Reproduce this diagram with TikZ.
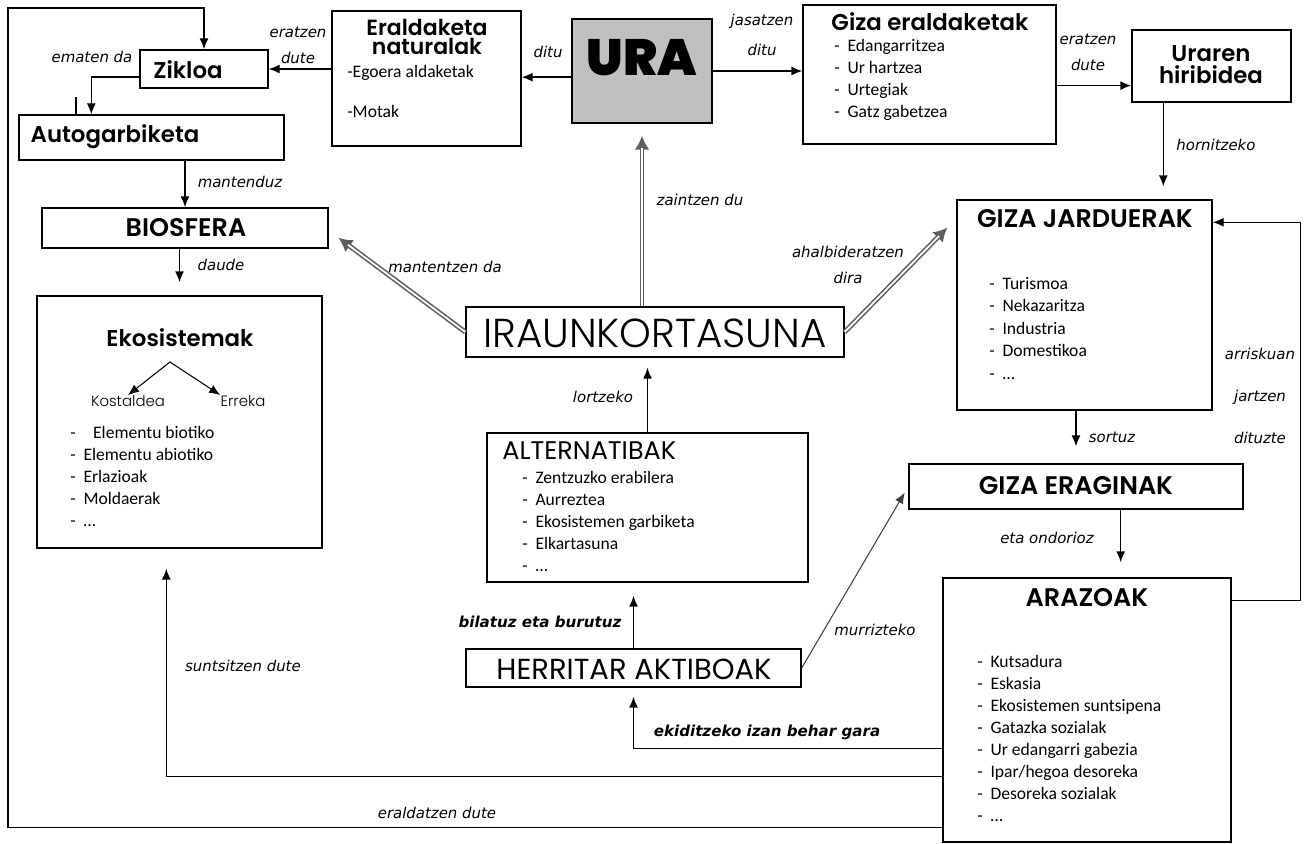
\documentclass[tikz,border=0pt]{standalone}
\usepackage{fontspec}
\usetikzlibrary{arrows.meta,fit,calc}

\newfontfamily\titlefont{Poppins SemiBold}
\newfontfamily\plainfont{Poppins}
\newfontfamily\thinfont{Poppins Light}
\newfontfamily\heavyfont{Poppins Black}
\newfontfamily\itemfont{Carlito}
\newfontfamily\labelfont{DejaVu Sans}
\definecolor{uragray}{RGB}{192,192,192}
\definecolor{dblgray}{RGB}{95,95,95}
\newcommand{\itemdash}{\makebox[7.5pt][l]{-}}

\tikzset{
  box/.style={draw, line width=0.8pt, inner sep=0pt},
  arr/.style={line width=0.8pt, -{Latex[length=2.2mm,width=1.8mm]}},
  dblout/.style={draw=dblgray, line width=2.8pt, -{Latex[length=2.8mm,width=3mm]}},
  dblin/.style={draw=white, line width=1pt},
  ttl/.style={inner sep=0pt, align=center, font=\titlefont\fontsize{13}{12.5}\selectfont},
  capttl/.style={inner sep=0pt, align=center, font=\titlefont\fontsize{14.5}{14}\selectfont},
  item/.style={anchor=west, inner sep=0pt, text height=7pt, text depth=2pt, font=\itemfont\fontsize{10}{12}\selectfont},
  lbl/.style={inner sep=0pt, align=center, font=\labelfont\itshape\fontsize{8.5}{14.8}\selectfont},
  blbl/.style={inner sep=0pt, font=\labelfont\bfseries\itshape\fontsize{8.6}{10}\selectfont}
}

\begin{document}
\begin{tikzpicture}[x=0.02cm, y=-0.02cm]
	\useasboundingbox (0,0) rectangle (1309,844);

	% top row
	\node[box, fit={(140,50) (268,88)}] (zikloa) {};
	\node[ttl] (zikloa-t) at (188,70) {Zikloa};
	\node[box, fit={(19,115) (284,160)}] (autog) {};
	\node[ttl] (autog-t) at (115,137) {Autogarbiketa};
	\node[box, fit={(332,11) (521,146)}] (eraldnat) {};
	\node[ttl, font=\titlefont\fontsize{12.5}{11.2}\selectfont] (eraldnat-t) at (427,37) {Eraldaketa\\naturalak};
	\node[item] (eraldnat-1) at (347,73) {-Egoera aldaketak};
	\node[item] (eraldnat-2) at (347,113) {-Motak};
	\node[box, fill=uragray, fit={(572,19) (712,123)}] (ura) {};
	\node[inner sep=0pt, font=\heavyfont\fontsize{29}{29}\selectfont] (ura-t) at (642,58) {URA};
	\node[box, fit={(803,5) (1056,144)}] (gizaer) {};
	\node[ttl] (gizaer-t) at (930,22) {Giza eraldaketak};
	\foreach \t [count=\i] in {Edangarritzea, Ur hartzea, Urtegiak, Gatz gabetzea}
	\node[item] (gizaer-\i) at (834,25+22*\i) {\itemdash\t};
	\node[box, fit={(1132,30) (1291,102)}] (uraren) {};
	\node[ttl] (uraren-t) at (1211,65) {Uraren\\hiribidea};

	% left column
	\node[box, fit={(42,208) (328,248)}] (biosfera) {};
	\node[capttl] (biosfera-t) at (186,228) {BIOSFERA};
	\node[box, fit={(37,296) (322,548)}] (ekosis) {};
	\node[ttl] (ekosis-t) at (180,338) {Ekosistemak};
	\coordinate (apex) at (170,362);
	\node[inner sep=0pt, font=\thinfont\fontsize{8.5}{10}\selectfont] (kosta) at (128,401) {Kostaldea};
	\node[inner sep=0pt, font=\thinfont\fontsize{8.5}{10}\selectfont] (erreka) at (243,401) {Erreka};
	\foreach \t [count=\i] in {{\hspace{5.5pt}Elementu biotiko}, Elementu abiotiko, Erlazioak, Moldaerak, …}
	\node[item] (ekosis-\i) at (70,412+22*\i) {\itemdash\t};

	% centre
	\node[box, fit={(466,307) (844,357)}] (iraun) {};
	\node[inner sep=0pt, font=\thinfont\fontsize{23}{23}\selectfont] (iraun-t) at (655,333) {IRAUNKORTASUNA};
	\node[box, fit={(487,433) (808,582)}] (alter) {};
	\node[inner sep=0pt, anchor=west, font=\plainfont\fontsize{14.5}{15}\selectfont] (alter-t) at (502,451) {ALTERNATIBAK};
	\foreach \t [count=\i] in {Zentzuzko erabilera, Aurreztea, Ekosistemen garbiketa, Elkartasuna, …}
	\node[item] (alter-\i) at (522,457+22*\i) {\itemdash\t};
	\node[box, fit={(466,649) (801,687)}] (herri) {};
	\node[inner sep=0pt, font=\plainfont\fontsize{16.5}{16}\selectfont] (herri-t) at (634,669) {HERRITAR AKTIBOAK};

	% right column
	\node[box, fit={(957,200) (1212,410)}] (gizajard) {};
	\node[capttl] (gizajard-t) at (1085,219) {GIZA JARDUERAK};
	\foreach \t [count=\i] in {Turismoa, Nekazaritza, Industria, Domestikoa, …}
	\node[item] (gizajard-\i) at (989,262.5+22.5*\i) {\itemdash\t};
	\node[box, fit={(909,464) (1243,509)}] (gizaerag) {};
	\node[capttl] (gizaerag-t) at (1076,486) {GIZA ERAGINAK};
	\node[box, fit={(943,578) (1231,842)}] (arazo) {};
	\node[capttl] (arazo-t) at (1087,598) {ARAZOAK};
	\foreach \t [count=\i] in {Kutsadura, Eskasia, Ekosistemen suntsipena, Gatazka sozialak, Ur edangarri gabezia, Ipar/hegoa desoreka, Desoreka sozialak, …}
	\node[item] (arazo-\i) at (977,641+22*\i) {\itemdash\t};

	% connectors
	\draw[arr] (ura.185) -- (ura.185 -| eraldnat.east);
	\draw[arr] (ura.east) -- (ura.east -| gizaer.west);
	\draw[arr] (gizaer.-5) -- (gizaer.-5 -| uraren.west);
	\draw[arr] (eraldnat.west |- zikloa.east) -- (zikloa.east);
	\coordinate (autogin) at ($(autog.north west)+(73,0)$);
	\draw[arr] (zikloa.187) -| (autogin);
	\draw[line width=1.4pt] (76,97) -- (76,116);
	\draw[arr] (autog.south -| biosfera.north) -- (biosfera.north);
	\draw[arr, shorten >=0.26cm] (biosfera.south -| ekosis.north) -- (ekosis.north);
	\draw[arr, line width=0.6pt] (apex) -- (kosta.north);
	\draw[arr, line width=0.6pt] (apex) -- (erreka.north west);
	\coordinate (hor) at ($(uraren.south west)+(32,0)$);
	\draw[arr, shorten >=0.26cm] (hor) -- (hor |- gizajard.north);
	\draw[arr, shorten >=0.34cm] (gizajard.south -| gizaerag.north) -- (gizaerag.north);
	\coordinate (ondo) at ($(gizaerag.south east)+(-123,0)$);
	\draw[arr, shorten >=0.3cm] (ondo) -- (ondo |- arazo.north);
	\coordinate (riskA) at ($(arazo.north east)+(0,23)$);
	\coordinate (riskB) at ($(gizajard.north east)+(0,23)$);
	\draw[arr] (riskA) -- ++(69,0) |- (riskB);
	\coordinate (loopA) at ($(arazo.south west)+(0,-15)$);
	\draw[arr] (loopA) -| (8,8) -| (zikloa.north);
	\coordinate (suntA) at ($(arazo.south west)+(0,-66)$);
	\draw[arr, shorten >=0.4cm] (suntA) -| ($(ekosis.south west)+(130,0)$);
	\coordinate (ekiA) at ($(arazo.south west)+(0,-94)$);
	\draw[arr, shorten >=0.18cm] (ekiA) -| (herri.south);
	\draw[arr, shorten >=0.26cm] (herri.north) -- (herri.north |- alter.south);
	\draw[arr, shorten >=0.2cm] (alter.north) -- (alter.north |- iraun.south);
	\draw[arr, line width=0.6pt, draw=black!75, shorten >=0.14cm] (herri.east) -- (gizaerag.west);

	% double arrows
	\foreach \a/\b/\s in {{ura.south |- iraun.north}/ura.south/0.24, iraun.west/biosfera.-1/0.24, iraun.east/gizajard.146/0.25}{
		\draw[dblout, shorten >=\s cm] (\a) -- (\b);
		\draw[dblin, shorten >=\s cm+2.4mm] (\a) -- (\b);
	}

	% labels
	\node[lbl] (l-ematen) at (92,57) {ematen da};
	\node[lbl] (l-eratzen1) at (298,45) {eratzen\\dute};
	\node[lbl] (l-ditu) at (548,52) {ditu};
	\node[lbl] (l-jasatzen) at (762,35) {jasatzen\\[2pt]ditu};
	\node[lbl] (l-eratzen2) at (1088,52) {eratzen\\dute};
	\node[lbl] (l-hornitzeko) at (1216,145) {hornitzeko};
	\node[lbl] (l-mantenduz) at (240,182) {mantenduz};
	\node[lbl] (l-daude) at (221,265) {daude};
	\node[lbl] (l-zaintzen) at (700,200) {zaintzen du};
	\node[lbl] (l-mantentzen) at (445,267) {mantentzen da};
	\node[lbl] (l-ahal) at (848,265) {ahalbideratzen\\dira};
	\node[lbl] (l-lortzeko) at (603,397) {lortzeko};
	\node[lbl] (l-sortuz) at (1112,437) {sortuz};
	\node[lbl] (l-arrisku) at (1260,396) {arriskuan\\[9pt]jartzen\\[9pt]dituzte};
	\node[lbl] (l-ondorioz) at (1047,538) {eta ondorioz};
	\node[lbl] (l-murriz) at (875,630) {murrizteko};
	\node[blbl] (l-bilatuz) at (540,622) {bilatuz eta burutuz};
	\node[blbl] (l-ekidi) at (767,732) {ekiditzeko izan behar gara};
	\node[lbl] (l-suntsi) at (243,666) {suntsitzen dute};
	\node[lbl] (l-eraldatzen) at (437,813) {eraldatzen dute};
\end{tikzpicture}
\end{document}
